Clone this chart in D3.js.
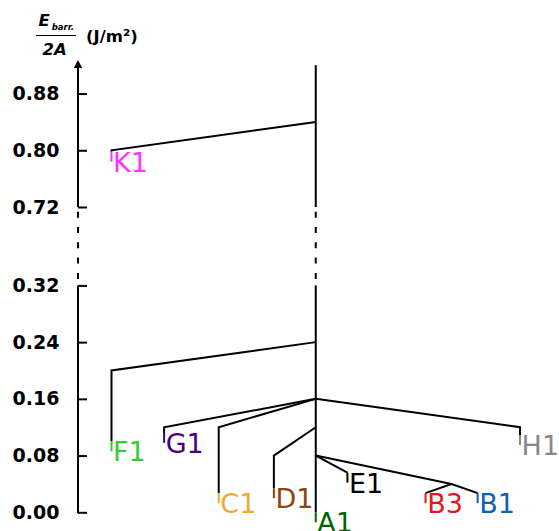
<!DOCTYPE html>
<html lang="en">
<head>
  <meta charset="UTF-8">
  <title>Disconnectivity graph</title>
  <script src="https://d3js.org/d3.v7.min.js"></script>
  <style>
    body { margin: 0; background: #fff; }
    svg { display: block; font-family: "DejaVu Sans", sans-serif; }
    .axis text { font-size: 19px; font-weight: bold; font-family: "DejaVu Sans", sans-serif; fill: #000; }
    .axis line { stroke: #000; stroke-width: 2; }
    .branch { stroke: #000; stroke-width: 2; fill: none; }
    .leaf-label { font-size: 27px; }
  </style>
</head>
<body>
  <svg width="559" height="531"></svg>

  <script>
    // minima (leaves), left to right
    const leaves = ["K1", "F1", "G1", "C1", "D1", "A1", "E1", "B3", "B1", "H1"];
    const leafMin = [0.798, 0.100, 0.112, 0.027, 0.034, 0.000, 0.056, 0.027, 0.027, 0.109];
    const leafSlot = [0, 0, 1.03, 2.1, 3.18, 4.0, 4.62, 6.15, 7.17, 8];
    const leafColor = ["#ff33ff", "#33cc33", "#4b0082", "#eeab33", "#8b4513",
                       "#006400", "#000000", "#e31a1c", "#0a64b4", "#888888"];
    // where each leaf's branch leaves its parent (energy) and who the parent is
    const leafParent = ["A1", "A1", "A1", "A1", "A1", null, "A1", "B", "B", "A1"];
    const leafJoin = [0.84, 0.24, 0.16, 0.16, 0.12, null, 0.08, 0.04, 0.04, 0.16];

    // sub-basin holding B3 and B1
    const groupNames = ["B"];
    const groupSlot = [6.66];
    const groupMin = [0.04];
    const groupJoin = [0.08];

    const trunkTop = 0.92;
    const lowTicks = [0.00, 0.08, 0.16, 0.24, 0.32];
    const highTicks = [0.72, 0.80, 0.88];
    const dropStep = 0.04;

    const svg = d3.select("svg");

    // broken energy axis: two linear pieces with the same scale
    const yLow = d3.scaleLinear().domain([0, 0.32]).range([512.3, 285.4]);
    const yHigh = d3.scaleLinear().domain([0.72, 0.92]).range([207.0, 65.2]);
    const y = e => e > 0.5 ? yHigh(e) : yLow(e);
    const x = d3.scaleLinear().domain([0, 8]).range([111.5, 520]);

    const axisX = 78;
    const dash = "6,9.3";
    const dashOff = 10.6;

    // ----- axis -----
    const axG = svg.append("g").attr("transform", `translate(${axisX},0)`);
    axG.append("g").attr("class", "axis")
        .call(d3.axisLeft(yLow).tickValues(lowTicks).tickFormat(d3.format(".2f"))
          .tickSize(-9).tickPadding(18.5))
        .call(g => g.select(".domain").remove());
    axG.append("g").attr("class", "axis")
        .call(d3.axisLeft(yHigh).tickValues(highTicks).tickFormat(d3.format(".2f"))
          .tickSize(-9).tickPadding(18.5))
        .call(g => g.select(".domain").remove());
    axG.selectAll(".axis text").attr("font-family", null).attr("font-size", null);

    axG.append("line").attr("stroke", "#000").attr("stroke-width", 2)
        .attr("y1", 66).attr("y2", y(0.72));
    axG.append("line").attr("stroke", "#000").attr("stroke-width", 2)
        .attr("stroke-dasharray", dash).attr("stroke-dashoffset", dashOff)
        .attr("y1", y(0.72)).attr("y2", y(0.32));
    axG.append("line").attr("stroke", "#000").attr("stroke-width", 2)
        .attr("y1", y(0.32)).attr("y2", y(0) + 1);
    axG.append("path").attr("d", "M0,60 L-4.2,68 L4.2,68 Z").attr("fill", "#000");

    // axis title: E_barr. / 2A  (J/m²)
    const t = svg.append("g").attr("font-weight", "bold").attr("fill", "#000");
    const num = t.append("text").attr("x", 38.5).attr("y", 26)
        .attr("font-size", 16.5).attr("font-style", "italic");
    num.append("tspan").text("E");
    num.append("tspan").attr("font-size", 8.5).attr("dx", 2).attr("dy", 4).text("barr.");
    t.append("line").attr("x1", 36).attr("x2", 76).attr("y1", 35.5).attr("y2", 35.5)
        .attr("stroke", "#000").attr("stroke-width", 1.2);
    t.append("text").attr("x", 42.5).attr("y", 55).attr("font-size", 16.5)
        .attr("font-style", "italic").text("2A");
    t.append("text").attr("x", 86).attr("y", 42).attr("font-size", 16.5).text("(J/m\u00b2)");

    // ----- trunk (A1) -----
    const trunkX = x(leafSlot[leaves.indexOf("A1")]);
    const tr = svg.append("g").attr("stroke", "#000").attr("stroke-width", 2);
    tr.append("line").attr("x1", trunkX).attr("x2", trunkX).attr("y1", y(trunkTop)).attr("y2", y(0.72));
    tr.append("line").attr("x1", trunkX).attr("x2", trunkX)
        .attr("stroke-dasharray", dash).attr("stroke-dashoffset", dashOff)
        .attr("y1", y(0.72)).attr("y2", y(0.32));
    tr.append("line").attr("x1", trunkX).attr("x2", trunkX).attr("y1", y(0.32))
        .attr("y2", y(leafMin[leaves.indexOf("A1")]));

    // ----- branches -----
    const slotOf = name => {
      const i = leaves.indexOf(name);
      return i >= 0 ? leafSlot[i] : groupSlot[groupNames.indexOf(name)];
    };
    const line = d3.line().x(d => x(d[0])).y(d => y(d[1]));

    const segs = [];
    groupNames.forEach((g, i) => {
      segs.push([[slotOf("A1"), groupJoin[i]], [groupSlot[i], groupMin[i]]]);
    });
    leaves.forEach((name, i) => {
      if (!leafParent[i]) return;
      const elbow = Math.max(leafJoin[i] - dropStep, leafMin[i]);
      segs.push([[slotOf(leafParent[i]), leafJoin[i]], [leafSlot[i], elbow], [leafSlot[i], leafMin[i]]]);
    });
    svg.append("g").selectAll("path").data(segs).join("path")
        .attr("class", "branch").attr("d", line);

    // ----- coloured minima + labels -----
    const lg = svg.append("g");
    leaves.forEach((name, i) => {
      const px = x(leafSlot[i]), py = y(leafMin[i]);
      lg.append("line").attr("x1", px).attr("x2", px).attr("y1", py).attr("y2", py + 10)
          .attr("stroke", leafColor[i]).attr("stroke-width", 2);
      lg.append("text").attr("class", "leaf-label")
          .attr("x", px + 1.6).attr("y", py + 20)
          .attr("fill", leafColor[i]).text(name);
    });
  </script>
</body>
</html>
